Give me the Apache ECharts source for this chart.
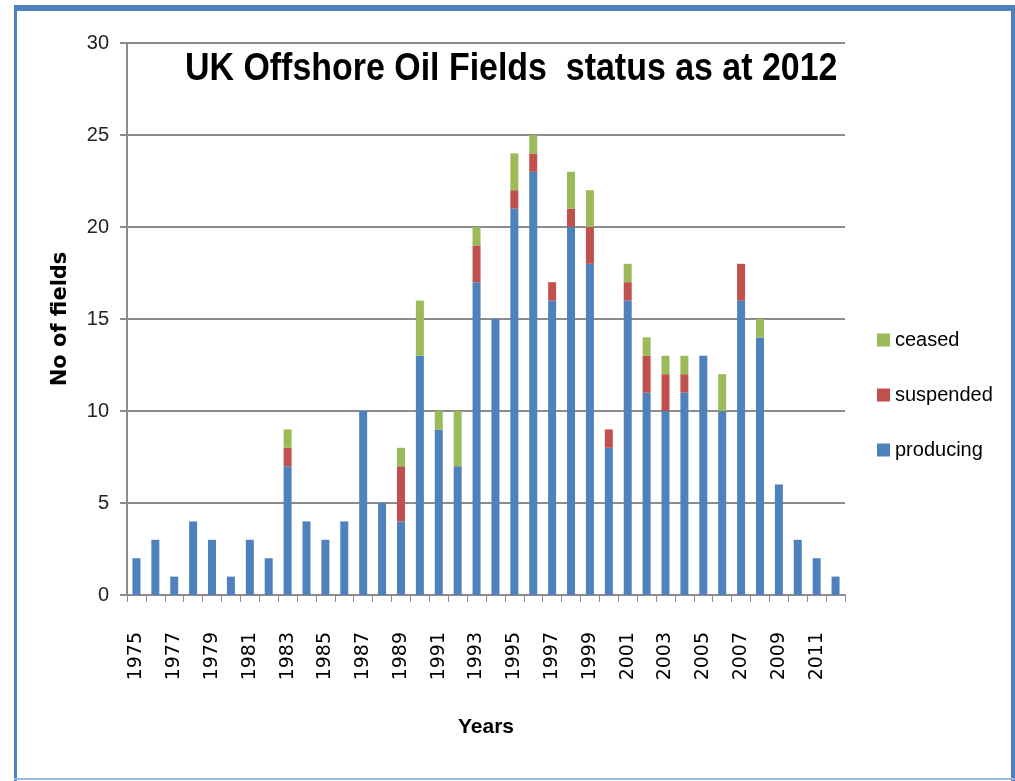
<!DOCTYPE html>
<html>
<head>
<meta charset="utf-8">
<script src="https://cdn.jsdelivr.net/npm/echarts@6/dist/echarts.min.js"></script>
<style>
  html, body { margin: 0; padding: 0; background: #ffffff; }
  #chart { width: 1015px; height: 781px; }
</style>
</head>
<body>
<div id="chart"></div>
<script>
// Years of first production, 1975 to 2012
const years = [
  '1975','1976','1977','1978','1979','1980','1981','1982','1983','1984',
  '1985','1986','1987','1988','1989','1990','1991','1992','1993','1994',
  '1995','1996','1997','1998','1999','2000','2001','2002','2003','2004',
  '2005','2006','2007','2008','2009','2010','2011','2012'
];

// Number of fields per status, by start-up year
const producing = [
  2, 3, 1, 4, 3, 1, 3, 2, 7, 4,
  3, 4, 10, 5, 4, 13, 9, 7, 17, 15,
  21, 23, 16, 20, 18, 8, 16, 11, 10, 11,
  13, 10, 16, 14, 6, 3, 2, 1
];
const suspended = [
  0, 0, 0, 0, 0, 0, 0, 0, 1, 0,
  0, 0, 0, 0, 3, 0, 0, 0, 2, 0,
  1, 1, 1, 1, 2, 1, 1, 2, 2, 1,
  0, 0, 2, 0, 0, 0, 0, 0
];
const ceased = [
  0, 0, 0, 0, 0, 0, 0, 0, 1, 0,
  0, 0, 0, 0, 1, 3, 1, 3, 1, 0,
  2, 1, 0, 2, 2, 0, 1, 1, 1, 1,
  0, 2, 0, 1, 0, 0, 0, 0
];

const yTicks = { min: 0, max: 30, step: 5 };

const SANS = '"Liberation Sans", Arial, sans-serif';
const gridColor = '#8c8c8c';

const chart = echarts.init(document.getElementById('chart'), null, { renderer: 'canvas' });

function barSeries(name, data, color) {
  return {
    name: name,
    type: 'bar',
    stack: 'fields',
    data: data,
    barWidth: 8,
    itemStyle: { color: color },
    emphasis: { disabled: true }
  };
}

chart.setOption({
  animation: false,
  backgroundColor: '#ffffff',
  legend: {
    data: ['ceased', 'suspended', 'producing'],
    orient: 'vertical',
    left: 872,
    top: 325,
    itemWidth: 13,
    itemHeight: 13,
    itemGap: 35,
    icon: 'rect',
    textStyle: {
      fontFamily: SANS,
      fontSize: 20,
      color: '#000000',
      padding: [0, 0, 0, 0]
    }
  },
  grid: {
    left: 127,
    right: 170,
    top: 43,
    bottom: 186,
    containLabel: false
  },
  xAxis: {
    type: 'category',
    data: years,
    name: 'Years',
    nameLocation: 'middle',
    nameGap: 122,
    nameTextStyle: {
      fontFamily: SANS,
      fontWeight: 'bold',
      fontSize: 21,
      color: '#000000'
    },
    axisLine: { show: true, lineStyle: { color: gridColor, width: 2 } },
    axisTick: { show: true, alignWithLabel: false, interval: 0, length: 7, lineStyle: { color: gridColor, width: 1 } },
    axisLabel: {
      interval: 1,
      rotate: 90,
      margin: 37,
      fontFamily: '"DejaVu Sans", sans-serif',
      fontSize: 19,
      color: '#000000'
    }
  },
  yAxis: {
    type: 'value',
    min: yTicks.min,
    max: yTicks.max,
    interval: yTicks.step,
    name: 'No of fields',
    nameLocation: 'middle',
    nameGap: 56,
    nameRotate: 90,
    nameTextStyle: {
      fontFamily: '"DejaVu Sans", sans-serif',
      fontWeight: 'bold',
      fontSize: 21,
      color: '#000000'
    },
    axisLine: { show: true, lineStyle: { color: gridColor, width: 2 } },
    axisTick: { show: true, length: 7, lineStyle: { color: gridColor, width: 2 } },
    splitLine: { show: true, lineStyle: { color: gridColor, width: 2 } },
    axisLabel: {
      margin: 18,
      fontFamily: SANS,
      fontSize: 20,
      color: '#222222'
    }
  },
  series: [
    barSeries('producing', producing, '#4F81BD'),
    barSeries('suspended', suspended, '#C0504D'),
    barSeries('ceased', ceased, '#9BBB59')
  ],
  graphic: [
    // chart heading, condensed horizontally
    {
      type: 'text',
      x: 185,
      y: 69,
      scaleX: 0.87,
      style: {
        text: 'UK Offshore Oil Fields  status as at 2012',
        font: 'bold 39px "Liberation Sans", Arial, sans-serif',
        fill: '#000000',
        textAlign: 'left',
        textVerticalAlign: 'middle'
      }
    },
    // blue frame round the chart area
    { type: 'rect', shape: { x: 14, y: 5, width: 3, height: 776 }, style: { fill: '#4F81BD' } },
    { type: 'rect', shape: { x: 14, y: 5, width: 1001, height: 6 }, style: { fill: '#4F81BD' } },
    { type: 'rect', shape: { x: 1011, y: 5, width: 4, height: 776 }, style: { fill: '#4F81BD' } },
    { type: 'rect', shape: { x: 14, y: 778, width: 1001, height: 2 }, style: { fill: '#9DB8DC' } }
  ]
});
</script>
</body>
</html>
